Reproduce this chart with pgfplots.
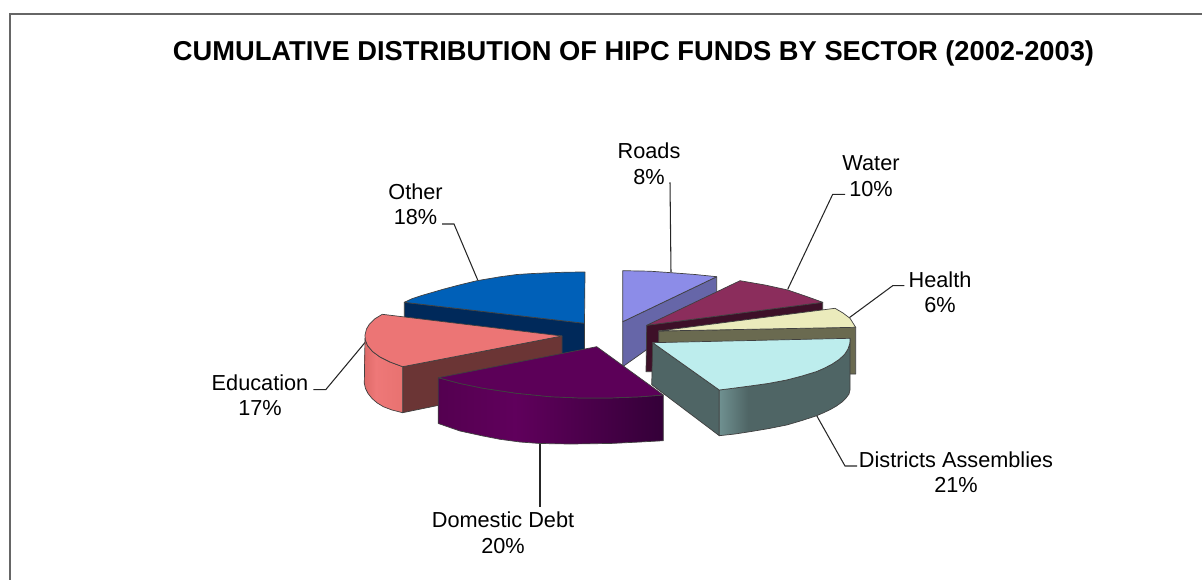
\documentclass[border=0pt]{standalone}
\usepackage{pgfplots}
\pgfplotsset{compat=1.18}
\usepackage{fontspec}
\setmainfont{Liberation Sans}
\definecolor{cBlue}{HTML}{0060B8}
\definecolor{cBlueD}{HTML}{00295A}
\definecolor{cPink}{HTML}{EC7575}
\definecolor{cBrown}{HTML}{6B3535}
\definecolor{cPurple}{HTML}{5C0058}
\definecolor{cPeri}{HTML}{8C8CE8}
\definecolor{cPeriD}{HTML}{6666A8}
\definecolor{cWater}{HTML}{8B2D5C}
\definecolor{cWaterD}{HTML}{3D1028}
\definecolor{cCream}{HTML}{EBEBBC}
\definecolor{cOlive}{HTML}{6A6A50}
\definecolor{cTeal}{HTML}{BDEDED}
\definecolor{cTealD}{HTML}{4F6565}
\pgfdeclarehorizontalshading{tealside}{100bp}{rgb(0bp)=(0.435,0.565,0.565); rgb(25bp)=(0.435,0.565,0.565); rgb(36bp)=(0.31,0.396,0.396); rgb(100bp)=(0.31,0.396,0.396)}
\pgfdeclarehorizontalshading{purpside}{100bp}{rgb(0bp)=(0.33,0,0.314); rgb(25bp)=(0.33,0,0.314); rgb(42bp)=(0.376,0,0.36); rgb(75bp)=(0.204,0,0.22); rgb(100bp)=(0.204,0,0.22)}
\pgfdeclarehorizontalshading{pinkside}{100bp}{rgb(0bp)=(0.87,0.416,0.408); rgb(25bp)=(0.87,0.416,0.408); rgb(40bp)=(0.933,0.47,0.47); rgb(75bp)=(0.91,0.447,0.44); rgb(100bp)=(0.91,0.447,0.44)}
\tikzset{
  edge/.style={draw=black!75, line width=0.7pt, line join=round},
  lead/.style={draw=black!85, line width=1.05pt, line join=miter},
  lab/.style={font=\fontsize{21.7}{25.5}\selectfont, align=center, text=black, inner sep=0pt},
}
\begin{document}
\begin{tikzpicture}
\begin{axis}[
  scale only axis, width=1202pt, height=580pt,
  xmin=0, xmax=1202, ymin=0, ymax=580, y dir=reverse,
  axis lines=none, clip=true,
]
% page extent
\addplot[draw=none, no markers] coordinates {(0,0) (1202,580)};
% frame
\addplot[draw=black!60, line width=2pt, no markers] coordinates {(10,580) (10,14) (1202,14)};

% leaders
\addplot[lead, no markers] coordinates {(670,182.3) (671,272.3)};
\addplot[lead, no markers] coordinates {(442,224) (454,224) (477.7,280)};
\addplot[lead, no markers] coordinates {(845,194.3) (832.7,194.3) (787.7,289.3)};
\addplot[lead, no markers] coordinates {(904.3,285.7) (892.7,285.7) (849.3,317.7)};
\addplot[lead, no markers] coordinates {(313.3,389.7) (325.7,389.7) (365.7,341.7)};
\addplot[lead, no markers] coordinates {(540,443) (540,507)};
\addplot[lead, no markers] coordinates {(816.7,415.7) (845,466) (857,466)};

% Other
\addplot[edge, fill=cBlueD, no markers] coordinates {(404.3,302.3) (584.5,323.3) (584.5,352) (540,360) (404.3,340)} --cycle;
\addplot[edge, fill=cBlue, no markers] coordinates {(585,272) (565,272.2) (550,272.8) (533,273.5) (517,274.5) (500,276.8) (477,280.7) (460,284.8) (443,289.3) (421.7,295.5) (412,298.7) (404.3,302.3) (584.5,323.3)} --cycle;

% Education
\addplot[edge, fill=cBrown, no markers] coordinates {(402.7,366.7) (562,336) (562,380) (402.7,412.7)} --cycle;
\addplot[edge, shading=pinkside, no markers] coordinates {(365,338) (364.3,383.3) (365.5,388.5) (368,393.5) (372,398.5) (377,402.8) (383.3,406.7) (392,410) (402.7,412.7) (402.7,366.7) (390,362) (380,357) (372.5,351.5) (367.5,345.5)} --cycle;
\addplot[edge, fill=cPink, no markers] coordinates {(382.3,314.3) (562,336) (402.7,366.7) (390,362) (380,357) (372.5,351.5) (367.5,345.5) (365.3,340) (365,335) (366.5,329) (369.5,324) (374.5,319)} --cycle;

% Roads
\addplot[edge, fill=cPeriD, no markers] coordinates {(622.7,321.7) (716.7,276.7) (716.7,300) (622.7,366.7)} --cycle;
\addplot[edge, fill=cPeri, no markers] coordinates {(622.7,270.7) (650,271.2) (671,272.7) (695,274.5) (716.7,276.7) (622.7,321.7)} --cycle;

% Water
\addplot[edge, fill=cWaterD, no markers] coordinates {(646.7,325.3) (822.7,302.3) (822.7,315) (660,340) (655,371.7) (646,371.7)} --cycle;
\addplot[edge, fill=cWater, no markers] coordinates {(646.7,325.3) (740,280.7) (765,285) (787.7,290) (806.7,296.5) (822.7,302.3)} --cycle;

% Health
\addplot[edge, fill=cOlive, no markers] coordinates {(658.7,331) (855.7,327.3) (855.7,374) (700,374) (658.7,345)} --cycle;
\addplot[edge, fill=cCream, no markers] coordinates {(658.7,331) (835,308.3) (843,313) (850,318.3) (855.7,327.3)} --cycle;

% Districts Assemblies
\addplot[edge, fill=cTealD, no markers] coordinates {(652.7,342.7) (719.3,390) (719.3,435.7) (651.7,384.7)} --cycle;
\addplot[edge, shading=tealside, no markers] coordinates {(719.3,390) (735,388) (750,386) (768,383.5) (786.7,380) (802,376) (816.7,371.5) (824,368.3) (832,364.2) (839,359.5) (844.5,354.5) (848,349) (849.8,343.5) (850,338.3) (850,390) (849,394) (846,398) (842,402) (836.5,406) (830,409.7) (823,413) (816.7,415.7) (802,420.5) (786.7,425) (768,428.7) (750,431.7) (735,434) (719.3,435.7)} --cycle;
\addplot[edge, fill=cTeal, no markers] coordinates {(652.7,342.7) (850,338.3) (849.8,343.5) (848,349) (844.5,354.5) (839,359.5) (832,364.2) (824,368.3) (816.7,371.5) (802,376) (786.7,380) (768,383.5) (750,386) (735,388) (719.3,390)} --cycle;

% Domestic Debt
\addplot[edge, shading=purpside, no markers] coordinates {(438.3,377.7) (438.3,423.5) (460,431) (483,436) (500,439.3) (520,442) (540,443.5) (570,444) (610,443.5) (640,442) (663.3,440.7) (663.3,395) (640,396.8) (610,398) (580,398) (550,396.7) (516.7,393.3) (483.3,388.3) (460,383.5)} --cycle;
\addplot[edge, fill=cPurple, no markers] coordinates {(596.7,346.7) (663.3,395) (640,396.8) (610,398) (580,398) (550,396.7) (516.7,393.3) (483.3,388.3) (460,383.5) (438.3,377.7)} --cycle;

% text
\node[font=\fontsize{27.3}{31}\selectfont\bfseries, text=black, inner sep=0pt] at (axis cs:633.5,53.5) {CUMULATIVE DISTRIBUTION OF HIPC FUNDS BY SECTOR (2002-2003)};
\node[lab] at (axis cs:649,163.5) {Roads\\8\%};
\node[lab] at (axis cs:415.5,204) {Other\\18\%};
\node[lab] at (axis cs:871,176) {Water\\10\%};
\node[lab] at (axis cs:940,292) {Health\\6\%};
\node[lab] at (axis cs:260,395) {Education\\17\%};
\node[lab] at (axis cs:503,532.5) {Domestic Debt\\20\%};
\node[lab] at (axis cs:956,472) {Districts Assemblies\\21\%};
\end{axis}
\end{tikzpicture}
\end{document}
